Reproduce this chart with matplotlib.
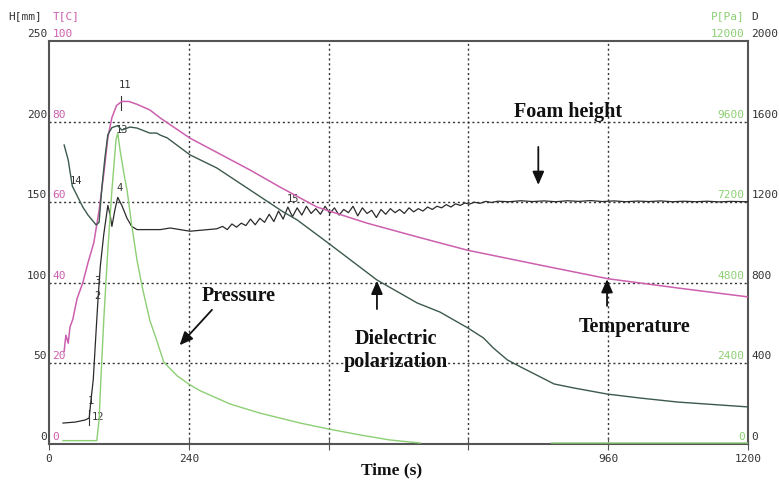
import matplotlib.pyplot as plt

# foam height H [mm]
h_t = [24, 45, 62, 69, 72, 76, 81, 84, 88, 94, 101, 105, 108, 113, 118, 125, 134, 142, 151,
       191, 208, 242, 288,
       298, 306, 314, 322, 330, 338, 346, 354, 362, 370, 378, 386, 394, 402, 410, 418, 426,
       434, 442, 450, 458, 466, 474, 482, 490, 498, 506, 514, 522, 530, 538, 546, 554, 562,
       570, 578, 586, 594, 602, 610, 618, 626, 634, 642, 650, 658, 666, 674, 682, 690, 698,
       706, 714, 722, 730, 740, 750, 760, 770, 790, 810, 830, 850, 870, 890, 910, 930, 950,
       970, 990, 1010, 1030, 1050, 1070, 1090, 1110, 1130, 1150, 1170, 1200]
h_mm = [13.0, 13.6, 14.9, 16.1, 27, 40, 71, 89, 110, 130, 148, 142, 135, 145, 153, 148, 140, 135, 133,
        133, 134, 132, 133.5,
        135.0, 133.0, 136.5, 134.5, 137.0, 135.5, 139.5, 136.0, 140.0, 137.5, 142.5, 138.0, 144.5,
        139.5, 147.0, 141.0, 146.5, 142.0, 147.5, 143.0, 146.0, 142.5, 147.5, 143.0, 146.5, 142.0,
        145.5, 143.5, 147.5, 141.5, 146.5, 143.0, 145.0, 140.5, 145.5, 142.5, 146.0, 143.5, 145.5,
        143.0, 146.5, 144.0, 146.0, 144.5, 147.0, 145.5, 147.5, 146.5, 148.5, 147.0, 149.0, 148.0,
        149.5, 148.8, 150.0, 149.3, 150.5, 149.8, 150.6, 150.3, 150.9, 150.4, 150.8, 150.3, 150.9,
        150.5, 151.0, 150.4, 150.8, 150.3, 150.7, 150.4, 150.8, 150.3, 150.6, 150.3, 150.6, 150.2,
        150.5, 150.3]

# temperature T [C]
temp_t = [26, 29, 33, 36, 41, 48, 58, 67, 77, 86, 94, 101, 108, 116, 125, 137, 151, 173, 191,
          242, 345, 396, 460, 546, 632, 718, 860, 960, 1080, 1200]
temp_c = [23, 27, 25, 29, 31, 36, 40, 45, 50, 58, 67, 76, 81, 84, 85, 85, 84.3, 82.9, 80.9,
          75.9, 68.0, 63.8, 58.8, 54.8, 51.4, 48.1, 43.9, 41.0, 38.7, 36.5]

# pressure P [Pa]
p_t = [24, 82, 86, 89, 94, 101, 108, 115, 118, 122, 129, 134, 142, 151, 161, 173, 185, 197,
       220, 242, 259, 311, 362, 431, 479, 534, 585, 637, 638, 863, 1200]
p_pa = [100, 100, 715, 1900, 3690, 5780, 7560, 9050, 9260, 8750, 8010, 7560, 6520, 5480, 4600,
        3690, 3080, 2440, 2030, 1760, 1590, 1190, 920, 625, 450, 270, 120, 30, None, 30, 30]

# dielectric polarization D
d_t = [26, 33, 40, 58, 67, 81, 86, 91, 96, 101, 108, 118, 125, 139, 151, 173, 185, 191, 203,
       242, 288, 345, 402, 426, 479, 563, 632, 671, 719, 746, 763, 787, 810, 844, 867, 901,
       958, 1015, 1080, 1200]
d_val = [1484, 1409, 1280, 1176, 1136, 1087, 1100, 1280, 1420, 1535, 1570, 1580, 1558, 1573,
         1568, 1543, 1543, 1533, 1519, 1435, 1370, 1261, 1152, 1112, 998, 814, 700, 655, 576,
         526, 476, 417, 382, 332, 298, 278, 248, 228, 208, 184]

h_ticks = [0, 50, 100, 150, 200, 250]
t_ticks = [0, 20, 40, 60, 80, 100]
p_ticks = [0, 2400, 4800, 7200, 9600, 12000]
d_ticks = [0, 400, 800, 1200, 1600, 2000]

# numbered marks: (label, time, text H, tick bottom H, tick top H)
marks = [('1', 66, 25, 12, 21), ('12', 74, 15, None, None), ('2', 78, 90, None, None),
         ('3', 78, 99, None, None), ('4', 115, 157, None, None), ('11', 120, 221, 207, 216),
         ('13', 114, 193, None, None), ('14', 36, 161, None, None), ('15', 408, 150, None, None)]

PINK = '#cc5fae'
GREEN = '#8ccf74'
DGREEN = '#3c5a4b'
GREY = '#555555'
mono = 'DejaVu Sans Mono'

fig = plt.figure(figsize=(7.79, 4.80), dpi=100)
ax = fig.add_axes([49 / 779, 36 / 480, 699 / 779, 403 / 480])
ax_t = ax.twinx()
ax_p = ax.twinx()
ax_d = ax.twinx()

for a in (ax_t, ax_p, ax_d):
    a.axis('off')
ax_t.set_ylim(0, 100)
ax_p.set_ylim(0, 12000)
ax_d.set_ylim(0, 2000)

ax_p.plot(p_t, [float('nan') if v is None else v for v in p_pa], color=GREEN, lw=1.0)
ax_t.plot(temp_t, temp_c, color=PINK, lw=1.1)
ax_d.plot(d_t, d_val, color=DGREEN, lw=1.0)
ax.plot(h_t, h_mm, color='#2b2b2b', lw=0.9, zorder=5)

ax.set_xlim(0, 1200)
ax.set_ylim(0, 250)
for s in ax.spines.values():
    s.set_color(GREY)
    s.set_linewidth(1.5)

ax.set_xticks([0, 240, 480, 720, 960, 1200])
ax.set_xticklabels(['0', '240', '', '', '960', '1200'], fontfamily=mono, fontsize=8, color='#333333')
ax.tick_params(axis='x', direction='inout', length=8, color=GREY, pad=3)
ax.set_yticks([])
for x in [240, 480, 720, 960]:
    ax.axvline(x, color='#333333', ls=(0, (1.5, 2)), lw=1.0, zorder=1)
for y in h_ticks[1:-1]:
    ax.axhline(y, color='#333333', ls=(0, (1.5, 2)), lw=1.0, zorder=1)

# axis value labels
for hv, tv, pv, dv in zip(h_ticks, t_ticks, p_ticks, d_ticks):
    frac = hv / 250
    ax.annotate(str(hv), (0, frac), xycoords='axes fraction', xytext=(-1.5, 1.5),
                textcoords='offset points', ha='right', va='bottom', fontfamily=mono,
                fontsize=8, color='#333333')
    ax.annotate(str(tv), (0, frac), xycoords='axes fraction', xytext=(2.5, 1.5),
                textcoords='offset points', ha='left', va='bottom', fontfamily=mono,
                fontsize=8, color=PINK)
    ax.annotate(str(pv), (1, frac), xycoords='axes fraction', xytext=(-2.5, 1.5),
                textcoords='offset points', ha='right', va='bottom', fontfamily=mono,
                fontsize=8, color=GREEN)
    ax.annotate(str(dv), (1, frac), xycoords='axes fraction', xytext=(2.5, 1.5),
                textcoords='offset points', ha='left', va='bottom', fontfamily=mono,
                fontsize=8, color='#333333')

ax.annotate('H[mm]', (0, 1), xycoords='axes fraction', xytext=(-29, 14),
            textcoords='offset points', ha='left', va='bottom', fontfamily=mono, fontsize=8, color='#333333')
ax.annotate('T[C]', (0, 1), xycoords='axes fraction', xytext=(2.5, 14),
            textcoords='offset points', ha='left', va='bottom', fontfamily=mono, fontsize=8, color=PINK)
ax.annotate('P[Pa]', (1, 1), xycoords='axes fraction', xytext=(-2.5, 14),
            textcoords='offset points', ha='right', va='bottom', fontfamily=mono, fontsize=8, color=GREEN)
ax.annotate('D', (1, 1), xycoords='axes fraction', xytext=(2.5, 14),
            textcoords='offset points', ha='left', va='bottom', fontfamily=mono, fontsize=8, color='#333333')

# numbered marks
for lab, tx, hy, b, top in marks:
    ax.text(tx, hy, lab, fontfamily=mono, fontsize=7.5, color='#333333', zorder=6)
    if b is not None:
        ax.plot([tx + 2 * len(lab), tx + 2 * len(lab)], [b, top], color='#333333', lw=0.8)

# series annotations
serif = dict(fontfamily='Liberation Serif', fontweight='bold', fontsize=14.5, color='#111111')
arrow = dict(arrowstyle='-|>,head_width=0.35,head_length=0.8', color='#111111', lw=1.3)
ax.text(891, 206, 'Foam height', ha='center', va='center', **serif)
ax.annotate('', xy=(840, 159), xytext=(840, 186), arrowprops=arrow)
ax.text(326, 92, 'Pressure', ha='center', va='center', **serif)
ax.annotate('', xy=(221, 60), xytext=(283, 84.5), arrowprops=arrow)
ax.text(596, 58, 'Dielectric\npolarization', ha='center', va='center', linespacing=1.25, **serif)
ax.annotate('', xy=(563, 103), xytext=(563, 82), arrowprops=arrow)
ax.text(1006, 72.5, 'Temperature', ha='center', va='center', **serif)
ax.annotate('', xy=(958, 104), xytext=(958, 84), arrowprops=arrow)

fig.text(392 / 779, 1 - 470 / 480, 'Time (s)', ha='center', va='center',
         fontfamily='Liberation Serif', fontweight='bold', fontsize=12.5, color='#111111')

fig.savefig('out.png', dpi=100)
